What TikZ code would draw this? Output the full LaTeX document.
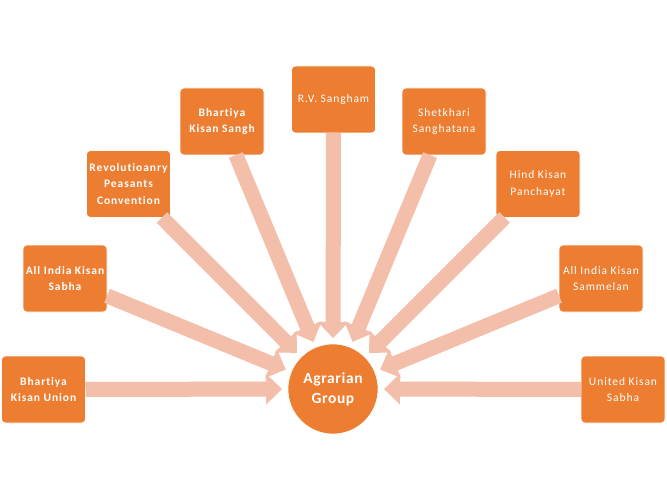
\documentclass[tikz,border=0pt]{standalone}
\usepackage{fontspec}
\setmainfont{Carlito}
\newfontfamily\boxfont[LetterSpace=8,Ligatures={NoCommon,NoRare}]{Carlito}
\newfontfamily\hubfont[LetterSpace=4,Ligatures={NoCommon,NoRare}]{Carlito}
\usepackage{tikz}
\usetikzlibrary{arrows.meta,positioning,shapes}
\definecolor{boxorange}{RGB}{237,125,49}
\definecolor{arrowpink}{RGB}{243,191,170}
\tikzstyle{group} = [rectangle,rounded corners=4pt,fill=boxorange,draw=white,line width=0.6pt,minimum width=84pt,minimum height=67pt,inner sep=0pt,outer sep=0pt,text=white,align=center,font=\boxfont\fontsize{11.5}{16.5}\selectfont]
\tikzstyle{centre} = [circle,fill=boxorange,draw=white,line width=0.6pt,minimum size=90pt,inner sep=0pt,outer sep=0pt,text=white,align=center,font=\hubfont\fontsize{15.5}{20}\selectfont\bfseries]
\tikzstyle{bigarrow} = [line width=15pt,draw=arrowpink,-{Triangle[width=30pt,length=16pt]},shorten >=6pt]

\begin{document}
\begin{tikzpicture}[x=1pt,y=-1pt]
\useasboundingbox (0,0) rectangle (667,500);
\node[centre] (agr) at (333,389) {Agrarian\\Group};
\node[group] (bku) at (43.5,389.5) {\bfseries Bhartiya\\\bfseries Kisan Union};
\node[group] (aiks) at (65,278.5) {\bfseries All India Kisan\\\bfseries Sabha};
\node[group] (rpc) at (128.5,184) {\bfseries Revolutioanry\\\bfseries Peasants\\\bfseries Convention};
\node[group] (bksg) at (222,121.5) {\bfseries Bhartiya\\\bfseries Kisan Sangh};
\node[group] (rvs) at (333.5,99.5) {R.V. Sangham};
\node[group] (shs) at (444,121.5) {Shetkhari\\Sanghatana};
\node[group] (hkp) at (538,184) {Hind Kisan\\Panchayat};
\node[group] (aiksm) at (601,278.5) {All India Kisan\\Sammelan};
\node[group] (uks) at (623,389.5) {United Kisan\\Sabha};
\draw[bigarrow] (bku) -- (agr);
\draw[bigarrow] (aiks) -- (agr);
\draw[bigarrow] (rpc) -- (agr);
\draw[bigarrow] (bksg) -- (agr);
\draw[bigarrow] (rvs) -- (agr);
\draw[bigarrow] (shs) -- (agr);
\draw[bigarrow] (hkp) -- (agr);
\draw[bigarrow] (aiksm) -- (agr);
\draw[bigarrow] (uks) -- (agr);
\end{tikzpicture}
\end{document}
